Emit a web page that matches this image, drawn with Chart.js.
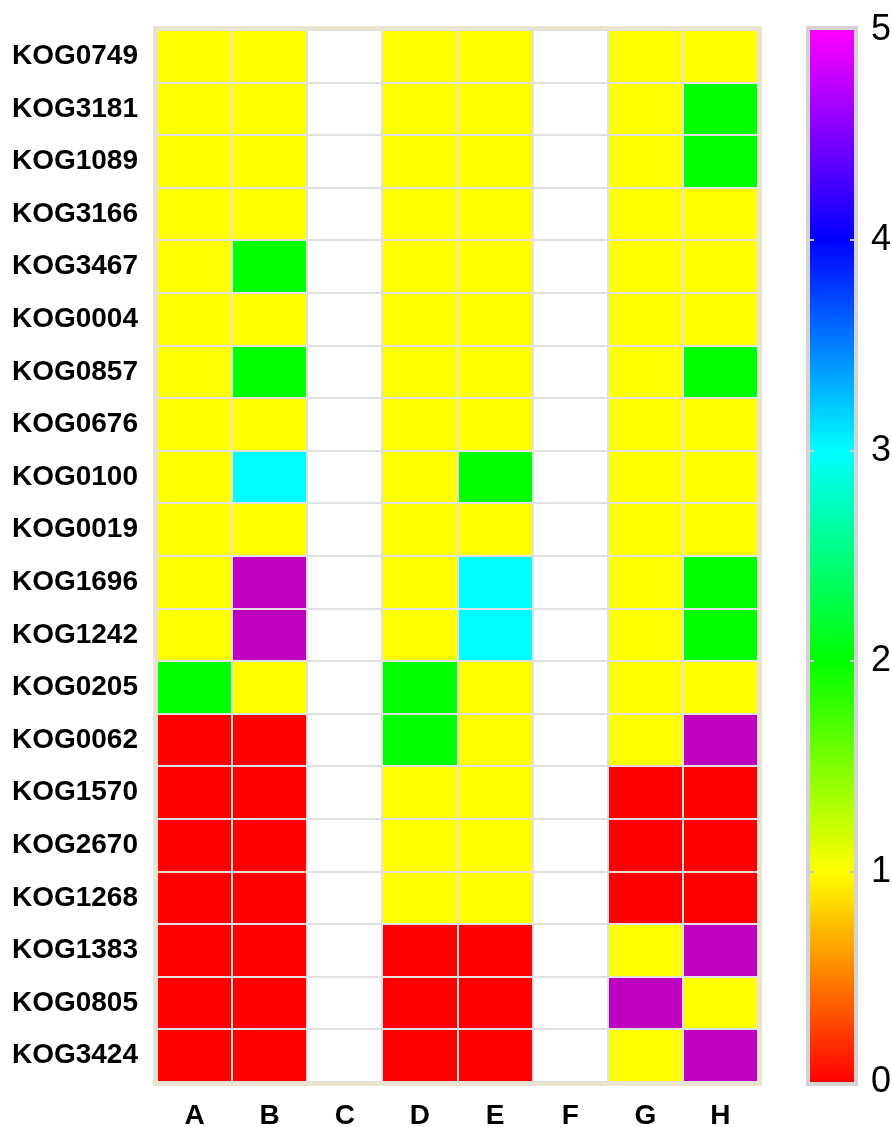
<!DOCTYPE html>
<html>
<head>
<meta charset="utf-8">
<script src="https://cdn.jsdelivr.net/npm/chart.js@4"></script>
<style>
  html, body { margin: 0; padding: 0; background: #fff; }
  #heat { display: block; }
</style>
</head>
<body>
<canvas id="heat" width="892" height="1127"></canvas>
<script>
// columns (samples) and rows (KOG ids), top to bottom
const cols = ['A', 'B', 'C', 'D', 'E', 'F', 'G', 'H'];
const rows = ['KOG0749', 'KOG3181', 'KOG1089', 'KOG3166', 'KOG3467', 'KOG0004', 'KOG0857',
              'KOG0676', 'KOG0100', 'KOG0019', 'KOG1696', 'KOG1242', 'KOG0205', 'KOG0062',
              'KOG1570', 'KOG2670', 'KOG1268', 'KOG1383', 'KOG0805', 'KOG3424'];

// one array per column, value per row (null = no data)
const colA = [1, 1, 1, 1, 1, 1, 1, 1, 1, 1, 1, 1, 2, 0, 0, 0, 0, 0, 0, 0];
const colB = [1, 1, 1, 1, 2, 1, 2, 1, 3, 1, 5, 5, 1, 0, 0, 0, 0, 0, 0, 0];
const colC = Array(20).fill(null);
const colD = [1, 1, 1, 1, 1, 1, 1, 1, 1, 1, 1, 1, 2, 2, 1, 1, 1, 0, 0, 0];
const colE = [1, 1, 1, 1, 1, 1, 1, 1, 2, 1, 3, 3, 1, 1, 1, 1, 1, 0, 0, 0];
const colF = Array(20).fill(null);
const colG = [1, 1, 1, 1, 1, 1, 1, 1, 1, 1, 1, 1, 1, 1, 0, 0, 0, 1, 5, 1];
const colH = [1, 2, 2, 1, 1, 1, 2, 1, 1, 1, 2, 2, 1, 5, 0, 0, 0, 5, 1, 5];

// colour scale ticks
const scaleTicks = [0, 1, 2, 3, 4, 5];

const columns = [colA, colB, colC, colD, colE, colF, colG, colH];

const CELL_COLORS = { 0: '#ff0000', 1: '#ffff00', 2: '#00ff00', 3: '#00ffff', 4: '#0000ff', 5: '#bf00bf' };
const GRAD_STOPS = ['#ff0000', '#ffff00', '#00ff00', '#00ffff', '#0000ff', '#ff00ff'];
const FONT = 'Liberation Sans, Arial, sans-serif';
const GRID = '#e0e0e0';

const datasets = rows.map((name, r) => ({
    label: name,
    data: columns.map(col => col[r] == null ? null : [r, r + 1]),
    backgroundColor: columns.map(col => col[r] == null ? 'rgba(0,0,0,0)' : CELL_COLORS[col[r]]),
    borderWidth: 0,
    barPercentage: 1,
    categoryPercentage: 1,
    grouped: false
}));

// keep the axes from adding their own padding round the chart area
function noPadding(axis) {
    axis.paddingTop = 0;
    axis.paddingBottom = 0;
    axis.paddingLeft = 0;
    axis.paddingRight = 0;
}

// beige frame round the plot + gradient colour bar
const decorPlugin = {
    id: 'decor',
    afterDraw(chart) {
        const { ctx, chartArea: a } = chart;
        ctx.save();
        ctx.strokeStyle = '#e9e4cf';
        ctx.lineWidth = 4;
        ctx.strokeRect(a.left - 2, a.top - 2, a.right - a.left + 4, a.bottom - a.top + 4);

        const cb = chart.scales.cbar;
        const top = cb.getPixelForValue(5);
        const bottom = cb.getPixelForValue(0);
        const x0 = a.right + 52;
        const w = 44;
        const grad = ctx.createLinearGradient(0, bottom, 0, top);
        GRAD_STOPS.forEach((c, i) => grad.addColorStop(i / (GRAD_STOPS.length - 1), c));
        ctx.fillStyle = grad;
        ctx.fillRect(x0, top, w, bottom - top);
        ctx.strokeStyle = '#d4d4d4';
        ctx.lineWidth = 4;
        ctx.strokeRect(x0 - 2, top - 2, w + 4, bottom - top + 4);

        // little notches at the inner ticks
        ctx.strokeStyle = '#c8c8c8';
        ctx.lineWidth = 2;
        scaleTicks.slice(1, -1).forEach(v => {
            const y = Math.round(cb.getPixelForValue(v));
            ctx.beginPath();
            ctx.moveTo(x0, y); ctx.lineTo(x0 + 4, y);
            ctx.moveTo(x0 + w - 4, y); ctx.lineTo(x0 + w, y);
            ctx.stroke();
        });
        ctx.restore();
    }
};

new Chart(document.getElementById('heat'), {
    type: 'bar',
    data: { labels: cols, datasets },
    options: {
        responsive: false,
        animation: false,
        devicePixelRatio: 1,
        layout: { padding: { top: 30, left: 0, right: 0, bottom: 0 } },
        plugins: { legend: { display: false }, tooltip: { enabled: false } },
        scales: {
            x: {
                type: 'category',
                offset: true,
                grid: { offset: true, color: GRID, lineWidth: 2, drawTicks: false, z: 1 },
                border: { display: false },
                ticks: { color: '#000', padding: 17, font: { family: FONT, size: 28, weight: 'bold' } },
                afterFit: axis => { axis.height = 45; noPadding(axis); }
            },
            y: {
                type: 'linear',
                min: 0,
                max: rows.length,
                reverse: true,
                grid: { color: GRID, lineWidth: 2, drawTicks: false, z: 1 },
                border: { display: false },
                ticks: { display: false, stepSize: 1 },
                afterFit: axis => { axis.width = 0; noPadding(axis); }
            },
            rowLabels: {
                type: 'category',
                position: 'left',
                labels: rows,
                offset: true,
                grid: { display: false, drawTicks: false },
                border: { display: false },
                ticks: { color: '#000', padding: 19, font: { family: FONT, size: 28, weight: 'bold' } },
                afterFit: axis => { axis.width = 157; noPadding(axis); }
            },
            cbar: {
                type: 'linear',
                position: 'right',
                min: 0,
                max: 5,
                grid: { display: false, drawTicks: false },
                border: { display: false },
                afterBuildTicks: axis => { axis.ticks = scaleTicks.map(v => ({ value: v })); },
                ticks: { color: '#000', padding: 113, font: { family: FONT, size: 36 } },
                afterFit: axis => { axis.width = 134; noPadding(axis); }
            }
        }
    },
    plugins: [decorPlugin]
});
</script>
</body>
</html>
